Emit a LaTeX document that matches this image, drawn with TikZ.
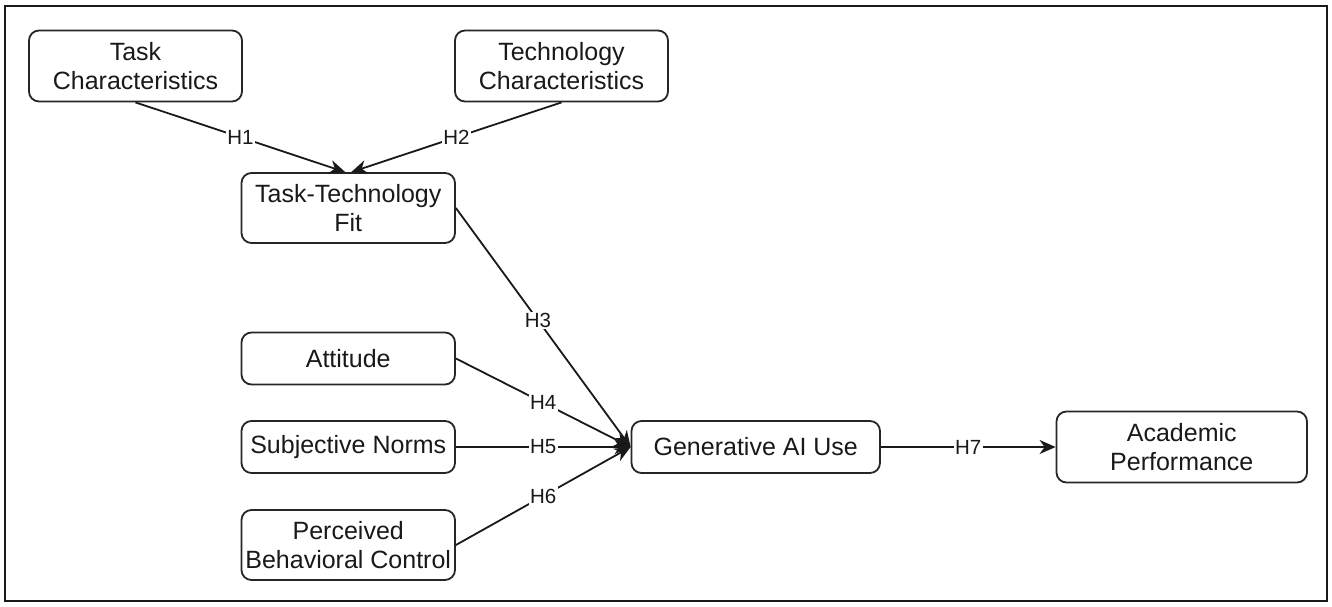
\documentclass[tikz,border=0pt]{standalone}
\usepackage{fontspec}
\setmainfont{Liberation Sans}
\usetikzlibrary{arrows.meta}
\begin{document}
\begin{tikzpicture}[x=1pt,y=-1pt,
  box/.style={draw=black!85,line width=1.8pt,rounded corners=10pt,align=center,
    font=\fontsize{25}{29.5}\selectfont,text=black!90,inner sep=0pt},
  conn/.style={draw=black!90,line width=1.8pt,-{Stealth[length=16pt,width=14pt,inset=5pt]}},
  hlabel/.style={fill=white,inner sep=1.5pt,text=black!90,font=\fontsize{20.5}{23}\selectfont}]
\useasboundingbox (0,0) rectangle (1332,606);
\draw[line width=2.4pt,black!90] (5,6) rectangle (1327,601);
\node[box,minimum width=213pt,minimum height=71pt] (tc) at (135.5,66) {Task\\Characteristics};
\node[box,minimum width=213pt,minimum height=71pt] (tech) at (561.5,66) {Technology\\Characteristics};
\node[box,minimum width=213.5pt,minimum height=70pt] (ttf) at (348.25,208) {Task-Technology\\Fit};
\node[box,minimum width=213.5pt,minimum height=52pt] (att) at (348.25,358.5) {Attitude};
\node[box,minimum width=213.5pt,minimum height=52pt] (sn) at (348.25,447) {Subjective Norms};
\node[box,minimum width=213.5pt,minimum height=70pt] (pbc) at (348.25,545) {Perceived\\Behavioral Control};
\node[box,minimum width=248.5pt,minimum height=52pt] (gai) at (755.75,447) {Generative AI Use};
\node[box,minimum width=250.5pt,minimum height=71pt] (ap) at (1181.75,447) {Academic\\Performance};
\coordinate (ttfL) at ([xshift=-3pt]ttf.north);
\coordinate (ttfR) at ([xshift=3pt]ttf.north);
\draw[conn] (tc.south) -- node[hlabel]{H1} (ttfL);
\draw[conn] (tech.south) -- node[hlabel]{H2} (ttfR);
\draw[conn] (ttf.east) -- node[hlabel,pos=0.47]{H3} (gai.west);
\draw[conn] (att.east) -- node[hlabel]{H4} (gai.west);
\draw[conn] (sn.east) -- node[hlabel]{H5} (gai.west);
\draw[conn] (pbc.east) -- node[hlabel]{H6} (gai.west);
\draw[conn] (gai.east) -- node[hlabel]{H7} (ap.west);
\end{tikzpicture}
\end{document}
